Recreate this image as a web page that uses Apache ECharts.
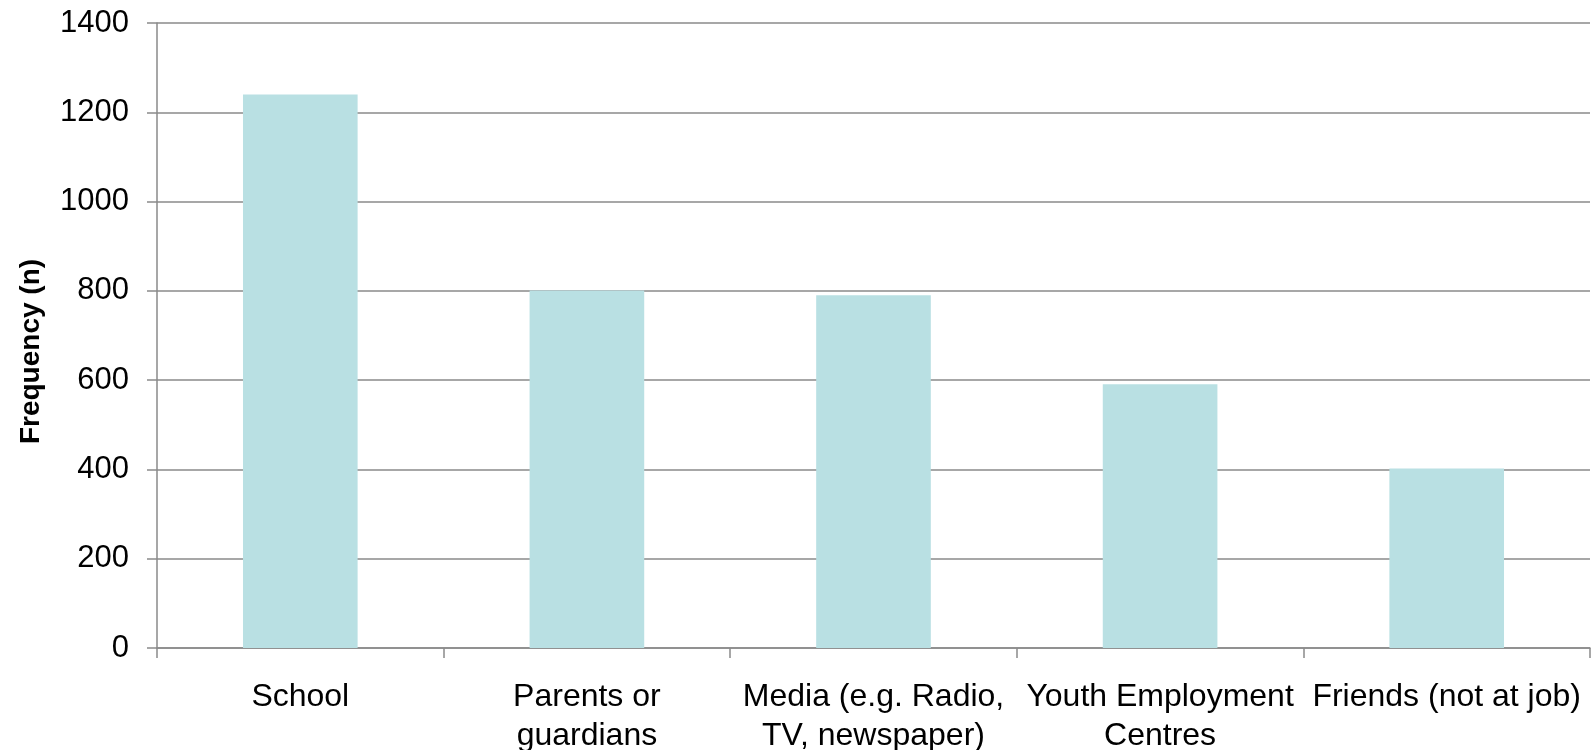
<!DOCTYPE html>
<html>
<head>
<meta charset="utf-8">
<script src="https://cdn.jsdelivr.net/npm/echarts@6/dist/echarts.min.js"></script>
<style>
html,body{margin:0;padding:0;background:#fff;}
#chart{width:1595px;height:750px;}
</style>
</head>
<body>
<div id="chart"></div>
<script>
const categories = ["School", "Parents or\nguardians", "Media (e.g. Radio,\nTV, newspaper)", "Youth Employment\nCentres", "Friends (not at job)"];
const frequency = [1240, 801, 790, 591, 402];
const yTicks = { min: 0, max: 1400, interval: 200 };
const yTitle = "Frequency (n)";

const chart = echarts.init(document.getElementById('chart'), null, { renderer: 'canvas' });
const font = '"Liberation Sans", Arial, sans-serif';
const axisGray = '#8a8a8a';
chart.setOption({
  animation: false,
  backgroundColor: '#ffffff',
  grid: { left: 157, right: 5, top: 23, bottom: 102, containLabel: false, outerBoundsMode: 'none' },
  xAxis: {
    type: 'category',
    data: categories,
    axisLine: { show: true, lineStyle: { color: axisGray, width: 1.5 } },
    axisTick: { show: true, length: 10, lineStyle: { color: axisGray, width: 1.5 } },
    axisLabel: { interval: 0, color: '#000', fontFamily: font, fontSize: 32, lineHeight: 39, margin: 30 }
  },
  yAxis: {
    type: 'value',
    min: yTicks.min, max: yTicks.max, interval: yTicks.interval,
    name: yTitle,
    nameLocation: 'middle',
    nameGap: 112,
    nameRotate: 90,
    nameTextStyle: { color: '#000', fontFamily: font, fontSize: 28, fontWeight: 'bold', padding: [0, 32, 0, 0] },
    axisLine: { show: true, lineStyle: { color: axisGray, width: 1.5 } },
    axisTick: { show: true, inside: false, length: 10, lineStyle: { color: axisGray, width: 1.5 } },
    axisLabel: { color: '#000', fontFamily: font, fontSize: 31, margin: 28, formatter: v => String(v) },
    splitLine: { show: true, lineStyle: { color: axisGray, width: 1.5 } }
  },
  series: [{
    type: 'bar',
    data: frequency,
    barCategoryGap: '60%',
    itemStyle: { color: '#b9e0e3' }
  }]
});
</script>
</body>
</html>
